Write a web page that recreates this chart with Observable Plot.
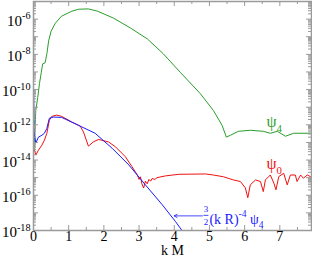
<!DOCTYPE html>
<html><head><meta charset="utf-8">
<script src="https://cdn.jsdelivr.net/npm/d3@7"></script>
<script src="https://cdn.jsdelivr.net/npm/@observablehq/plot@0.6"></script>
<style>body{margin:0;background:#fff}</style>
</head><body><div id="chart"></div>
<script>
// psi_4 (green): k M and log10 amplitude
const psi4K   = [0.02,0.04,0.065,0.12,0.17,0.22,0.26,0.33,0.38,0.43,0.50,0.62,0.80,1.09,1.28,1.56,1.82,2.27,2.76,3.24,3.69,4.18,4.74,5.11,5.36,5.48,5.60,5.82,6.16,6.53,6.73,6.93,7.16,7.39,7.87];
const psi4Exp = [-13.4,-12.3,-11.18,-10.45,-9.66,-9.04,-8.54,-8.48,-7.97,-7.24,-6.68,-6.23,-5.83,-5.55,-5.44,-5.42,-5.55,-5.94,-6.51,-7.13,-7.97,-9.04,-10.23,-11.18,-12.03,-12.70,-12.59,-12.37,-12.31,-12.37,-12.48,-12.37,-12.65,-12.48,-12.48];
// psi_0 (red)
const psi0K   = [0.03,0.065,0.14,0.24,0.31,0.38,0.45,0.52,0.66,0.80,1.09,1.33,1.42,1.56,1.70,1.85,2.13,2.33,2.61,2.80,2.95,3.0,3.04,3.08,3.13,3.18,3.23,3.28,3.33,3.37,3.45,3.51,3.75,4.13,4.89,5.11,5.4,5.68,5.88,6.02,6.09,6.16,6.31,6.45,6.53,6.59,6.73,6.83,6.89,6.97,7.11,7.21,7.30,7.44,7.49,7.59,7.67,7.78,7.87];
const psi0Exp = [-13.44,-13.72,-13.44,-13.15,-12.87,-12.48,-11.75,-11.52,-11.45,-11.52,-11.84,-12.08,-12.41,-13.21,-12.97,-12.83,-12.97,-13.25,-13.81,-14.38,-14.85,-15.1,-14.95,-15.35,-15.59,-15.2,-15.35,-15.1,-15.2,-15.05,-15.1,-15.0,-14.90,-14.81,-14.79,-14.85,-14.95,-15.13,-15.22,-15.58,-16.14,-15.41,-15.13,-15.22,-15.79,-15.13,-14.85,-15.31,-15.69,-14.94,-14.75,-15.41,-14.85,-14.85,-15.22,-14.85,-15.03,-14.85,-14.94];
// 3/2 (kR)^-4 psi_4 (blue)
const fitK   = [0.005,0.02,0.065,0.14,0.24,0.31,0.38,0.45,0.57,0.80,1.28,1.75,2.24,2.71,3.18,3.66,4.03,4.22];
const fitExp = [-10.1,-12.4,-13.04,-12.70,-12.59,-12.48,-12.20,-11.63,-11.56,-11.58,-12.03,-12.48,-13.34,-14.28,-15.41,-16.54,-17.48,-18.0];

const xMajor = [0,1,2,3,4,5,6,7];
const xMinor = [0.5,1.5,2.5,3.5,4.5,5.5,6.5,7.5];
const yLabelExp = [-6,-8,-10,-12,-14,-16,-18];
const yDecadeExp = [-18,-17,-16,-15,-14,-13,-12,-11,-10,-9,-8,-7,-6,-5];
const yMinorMult = [2,3,4,5,6,7,8,9];
const xTitle = "k M";
const seriesLabels = [
  {text:"ψ_{4}", k:6.62, e:-11.84, color:"#2a9d2a"},
  {text:"ψ_{0}", k:6.62, e:-14.24, color:"#f01010"}
];
const annot = {text:"(k R)^{-4} ψ_{4}", k:5.0, e:-17.35, num:"3", den:"2", fk:4.9, numE:-16.8, denE:-17.5, barE:-17.14, barK1:4.83, barK2:4.97, arrowK1:4.8, arrowK2:4.0, arrowE:-17.17};

const W = 312, H = 258, mL = 33, mR = 1, mT = 1, mB = 28;
const pw = W - mL - mR, ph = H - mT - mB;
const font = "Liberation Serif";
const axisColor = "#9a9a9a";
const green = "#2a9d2a", red = "#f01010", blue = "#1a1aff";

const toRows = (ks, es) => ks.map((k,i)=>({k, v: 10**es[i]}));
const yMinor = yDecadeExp.slice(0,-1).flatMap(e => yMinorMult.map(m => m*10**e));
const yMajor = yDecadeExp.map(e => 10**e);

const plot = Plot.plot({
  width: W, height: H,
  marginLeft: mL, marginRight: mR, marginTop: mT, marginBottom: mB,
  x: {domain:[0,7.9], axis:null},
  y: {type:"log", domain:[1e-18,1e-5], axis:null},
  style: {background:"#fff"},
  marks: [
    Plot.line(toRows(psi4K, psi4Exp), {x:"k", y:"v", stroke:green, strokeWidth:1, clip:true}),
    Plot.line(toRows(psi0K, psi0Exp), {x:"k", y:"v", stroke:red, strokeWidth:1, clip:true}),
    Plot.line(toRows(fitK, fitExp), {x:"k", y:"v", stroke:blue, strokeWidth:1, clip:true}),
    // ticks (inward) on all sides
    Plot.tickX(xMajor, {x:d=>d, stroke:axisColor, insetTop: ph-5}),
    Plot.tickX(xMinor, {x:d=>d, stroke:axisColor, insetTop: ph-3}),
    Plot.tickX(xMajor, {x:d=>d, stroke:axisColor, insetBottom: ph-5}),
    Plot.tickX(xMinor, {x:d=>d, stroke:axisColor, insetBottom: ph-3}),
    Plot.tickY(yMajor, {y:d=>d, stroke:axisColor, insetRight: pw-5}),
    Plot.tickY(yMinor, {y:d=>d, stroke:axisColor, insetRight: pw-3}),
    Plot.tickY(yMajor, {y:d=>d, stroke:axisColor, insetLeft: pw-5}),
    Plot.tickY(yMinor, {y:d=>d, stroke:axisColor, insetLeft: pw-3}),
    Plot.frame({stroke:axisColor, strokeWidth:1.5}),
    // tick labels
    Plot.text(yLabelExp, {y:e=>10**e, frameAnchor:"left", textAnchor:"end", dx:-3, dy:2, text:e=>`10^{${e}}`, fontSize:15, fontFamily:font, fill:"#000"}),
    Plot.text(xMajor, {x:d=>d, frameAnchor:"bottom", lineAnchor:"top", dy:1, text:d=>String(d), fontSize:14, fontFamily:font, fill:"#000"}),
    Plot.text([xTitle], {frameAnchor:"bottom", lineAnchor:"top", dy:15, text:d=>d, fontSize:14, fontFamily:font, fill:"#000"}),
    // series labels
    Plot.text(seriesLabels, {x:"k", y:d=>10**d.e, text:"text", fill:"color", textAnchor:"start", fontSize:16, fontFamily:font}),
    // annotation
    Plot.text([annot], {x:"k", y:d=>10**d.e, text:"text", fill:blue, textAnchor:"start", fontSize:14, fontFamily:font}),
    Plot.text([annot], {x:"fk", y:d=>10**d.numE, text:"num", fill:blue, fontSize:9, fontFamily:font}),
    Plot.text([annot], {x:"fk", y:d=>10**d.denE, text:"den", fill:blue, fontSize:9, fontFamily:font}),
    Plot.link([annot], {x1:"barK1", x2:"barK2", y1:d=>10**d.barE, y2:d=>10**d.barE, stroke:blue, strokeWidth:0.8}),
    Plot.arrow([annot], {x1:"arrowK1", x2:"arrowK2", y1:d=>10**d.arrowE, y2:d=>10**d.arrowE, stroke:blue, strokeWidth:0.8, headLength:6})
  ]
});

// convert ^{..} / _{..} markup into real super/subscript tspans
function richify(svg){
  svg.querySelectorAll("text").forEach(t=>{
    const s = t.textContent;
    if(!/[\^_]\{/.test(s)) return;
    let fs = 12;
    for(let n=t; n && n.getAttribute; n=n.parentNode){ const a=n.getAttribute("font-size"); if(a){fs=parseFloat(a);break;} }
    const re = /([\^_])\{([^}]*)\}/g; let last=0, m, parts=[];
    while((m = re.exec(s))){
      if(m.index>last) parts.push({t:s.slice(last,m.index), k:0});
      parts.push({t:m[2], k: m[1]==="^" ? -1 : 1});
      last = re.lastIndex;
    }
    if(last<s.length) parts.push({t:s.slice(last), k:0});
    t.textContent = "";
    let cur = 0;
    parts.forEach(p=>{
      const target = p.k<0 ? -0.45*fs : p.k>0 ? 0.3*fs : 0;
      const ts = document.createElementNS("http://www.w3.org/2000/svg","tspan");
      ts.setAttribute("dy", target-cur);
      if(p.k!==0) ts.setAttribute("font-size", 0.68*fs);
      ts.textContent = p.t;
      t.appendChild(ts);
      cur = target;
    });
  });
}
richify(plot);
document.getElementById("chart").appendChild(plot);
</script>
</body></html>
